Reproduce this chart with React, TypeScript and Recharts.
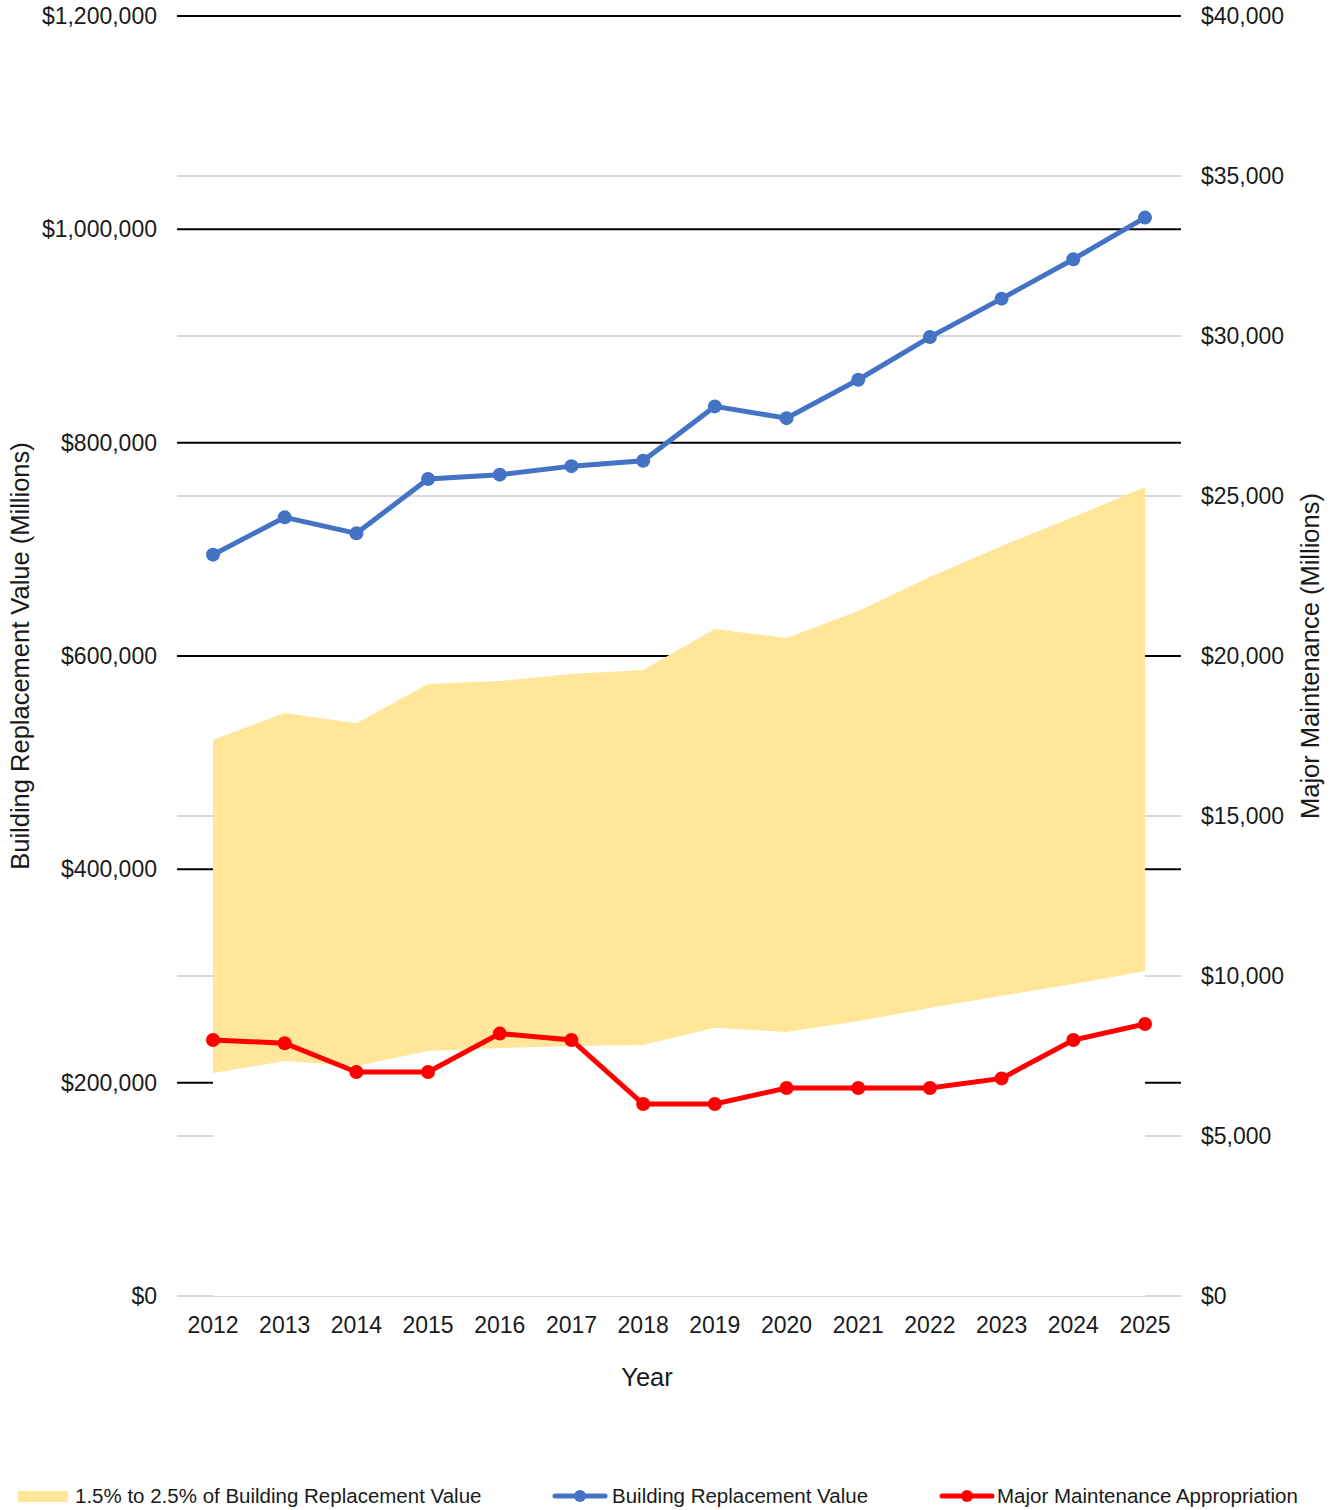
import React from 'react';
import {
  ComposedChart,
  Area,
  Line,
  XAxis,
  YAxis,
  CartesianGrid,
  Legend,
} from 'recharts';

const years = ['2012', '2013', '2014', '2015', '2016', '2017', '2018', '2019', '2020', '2021', '2022', '2023', '2024', '2025'];
const buildingReplacementValue = [695000, 730000, 715000, 766000, 770000, 778000, 783000, 834000, 823000, 859000, 899000, 935000, 972000, 1011000];
const bandHigh = [17375, 18220, 17900, 19125, 19220, 19440, 19560, 20840, 20560, 21410, 22470, 23440, 24340, 25280];
const bandLow = [6970, 7340, 7190, 7660, 7750, 7810, 7840, 8380, 8250, 8590, 9000, 9380, 9750, 10160];
const majorMaintenance = [8000, 7900, 7000, 7000, 8200, 8000, 6000, 6000, 6500, 6500, 6500, 6800, 8000, 8500];

const leftTicks = [0, 200000, 400000, 600000, 800000, 1000000, 1200000];
const leftGridValues = [200000, 400000, 600000, 800000, 1000000, 1200000];
const rightTicks = [0, 5000, 10000, 15000, 20000, 25000, 30000, 35000, 40000];

const legendLabels = {
  band: '1.5% to 2.5% of Building Replacement Value',
  brv: 'Building Replacement Value',
  mm: 'Major Maintenance Appropriation',
};

const BLUE = '#4472C4';
const RED = '#FF0000';
const YELLOW = '#FFE699';
const FONT = '"Liberation Sans", Arial, sans-serif';
const TEXT = '#1a1a1a';

const data = years.map((year, i) => ({
  year,
  brv: buildingReplacementValue[i],
  low: bandLow[i],
  band: [bandLow[i], bandHigh[i]],
  mm: majorMaintenance[i],
}));

const fmt = (v: number) => '$' + v.toLocaleString('en-US');

const LineIcon = ({ color }: { color: string }) => (
  <svg width={56} height={14} style={{ display: 'block' }}>
    <line x1={3} y1={7} x2={53} y2={7} stroke={color} strokeWidth={5} strokeLinecap="round" />
    <circle cx={28} cy={7} r={6} fill={color} />
  </svg>
);

const CustomLegend = () => (
  <div style={{ position: 'relative', height: 28, width: 1341, fontFamily: FONT, fontSize: 20.5, color: TEXT }}>
    <div style={{ position: 'absolute', left: 18, top: 0, height: 28, display: 'flex', alignItems: 'center' }}>
      <div style={{ width: 50, height: 11, background: YELLOW }} />
      <span style={{ marginLeft: 7, whiteSpace: 'nowrap' }}>{legendLabels.band}</span>
    </div>
    <div style={{ position: 'absolute', left: 552, top: 0, height: 28, display: 'flex', alignItems: 'center' }}>
      <LineIcon color={BLUE} />
      <span style={{ marginLeft: 4, whiteSpace: 'nowrap' }}>{legendLabels.brv}</span>
    </div>
    <div style={{ position: 'absolute', left: 939, top: 0, height: 28, display: 'flex', alignItems: 'center' }}>
      <LineIcon color={RED} />
      <span style={{ marginLeft: 2, whiteSpace: 'nowrap' }}>{legendLabels.mm}</span>
    </div>
  </div>
);

export default function App() {
  return (
    <div style={{ position: 'absolute', left: 0, top: 0, background: '#fff' }}>
      <ComposedChart
        width={1341}
        height={1510}
        data={data}
        margin={{ top: 16, right: 0, bottom: 0, left: 0 }}
        style={{ fontFamily: FONT }}
      >
        <CartesianGrid yAxisId="right" vertical={false} stroke="#d9d9d9" strokeWidth={2} />
        <CartesianGrid yAxisId="left" vertical={false} stroke="#000" strokeWidth={2} horizontalValues={leftGridValues} />
        <XAxis
          dataKey="year"
          scale="point"
          padding={{ left: 36, right: 36 }}
          height={186}
          axisLine={false}
          tickLine={false}
          tickSize={0}
          tickMargin={21}
          tick={{ fontSize: 23, fill: TEXT, fontFamily: FONT }}
          label={{ value: 'Year', position: 'insideTop', offset: 72, dx: -32, fontSize: 25.5, fill: TEXT, fontFamily: FONT }}
        />
        <YAxis
          yAxisId="left"
          orientation="left"
          width={177}
          domain={[0, 1200000]}
          ticks={leftTicks}
          tickFormatter={fmt}
          axisLine={false}
          tickLine={false}
          tickSize={0}
          tickMargin={20}
          tick={{ fontSize: 23, fill: TEXT, fontFamily: FONT }}
          label={{
            value: 'Building Replacement Value (Millions)',
            angle: -90,
            position: 'insideLeft',
            offset: 20,
            fontSize: 25.5,
            fill: TEXT,
            fontFamily: FONT,
            style: { textAnchor: 'middle' },
          }}
        />
        <YAxis
          yAxisId="right"
          orientation="right"
          width={160}
          domain={[0, 40000]}
          ticks={rightTicks}
          tickFormatter={fmt}
          axisLine={false}
          tickLine={false}
          tickSize={0}
          tickMargin={20}
          tick={{ fontSize: 23, fill: TEXT, fontFamily: FONT, textAnchor: 'start' }}
          label={{
            value: 'Major Maintenance (Millions)',
            angle: -90,
            position: 'insideRight',
            offset: 31,
            fontSize: 25.5,
            fill: TEXT,
            fontFamily: FONT,
            style: { textAnchor: 'middle' },
          }}
        />
        <Area
          yAxisId="right"
          dataKey="low"
          type="linear"
          fill="#ffffff"
          fillOpacity={1}
          stroke="none"
          isAnimationActive={false}
          legendType="none"
          activeDot={false}
        />
        <Area
          yAxisId="right"
          dataKey="band"
          name={legendLabels.band}
          type="linear"
          fill={YELLOW}
          fillOpacity={1}
          stroke="none"
          isAnimationActive={false}
          activeDot={false}
        />
        <Line
          yAxisId="left"
          dataKey="brv"
          name={legendLabels.brv}
          type="linear"
          stroke={BLUE}
          strokeWidth={5}
          dot={{ r: 7, fill: BLUE, stroke: BLUE, strokeWidth: 0 }}
          activeDot={false}
          isAnimationActive={false}
        />
        <Line
          yAxisId="right"
          dataKey="mm"
          name={legendLabels.mm}
          type="linear"
          stroke={RED}
          strokeWidth={5}
          dot={{ r: 7, fill: RED, stroke: RED, strokeWidth: 0 }}
          activeDot={false}
          isAnimationActive={false}
        />
        <Legend verticalAlign="bottom" content={<CustomLegend />} wrapperStyle={{ left: 0, bottom: 0 }} />
      </ComposedChart>
    </div>
  );
}
